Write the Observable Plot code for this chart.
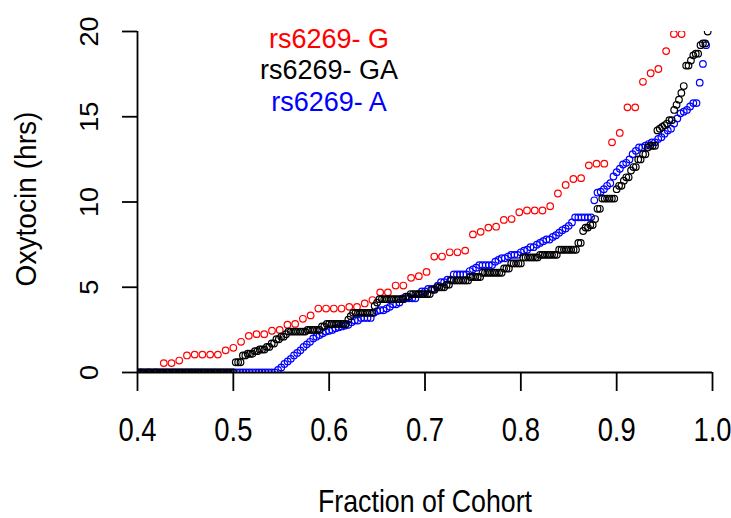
<!DOCTYPE html>
<html>
<head>
<meta charset="utf-8">
<script src="https://cdn.jsdelivr.net/npm/d3@7"></script>
<script src="https://cdn.jsdelivr.net/npm/@observablehq/plot@0.6"></script>
<style>
  html, body { margin: 0; padding: 0; background: #ffffff; }
  #chart { width: 731px; height: 518px; }
  #chart svg { font-family: "Liberation Sans", Arial, sans-serif; }
</style>
</head>
<body>
<div id="chart"></div>
<script>
// ---- labels / ticks ----
const seriesNames = ["rs6269- G", "rs6269- GA", "rs6269- A"];
const seriesColors = ["#ff0000", "#000000", "#0000ff"];
const xTitle = "Fraction of Cohort";
const yTitle = "Oxytocin (hrs)";
const xTicks = [0.4, 0.5, 0.6, 0.7, 0.8, 0.9, 1.0];
const yTicks = [0, 5, 10, 15, 20];
const xDomain = [0.4, 1.0];
const yDomain = [0, 20];

// ---- cohort sizes (per genotype) ----
const cohortSizes = [124, 400, 300];

// ---- rs6269 G : sorted oxytocin hours and how many patients share each value ----
const gHours  = [0, 0.55, 0.7, 1.0, 1.05, 1.3, 1.45, 1.8, 2.15, 2.25, 2.45, 2.5, 2.8, 2.85, 3.15, 3.35, 3.75, 3.85, 4.05, 4.25, 4.7, 5.1, 5.55, 5.65, 5.9, 6.8, 7.05, 7.15, 8.1, 8.25, 8.5, 8.55, 8.95, 9.0, 9.4, 9.5, 9.75, 10.5, 11.0, 11.35, 11.4, 12.15, 12.25, 13.5, 14.05, 15.55, 17.05, 17.55, 17.8, 18.85, 19.85];
const gCounts = [52, 2, 1, 1, 4, 1, 1, 1, 1, 2, 1, 1, 1, 1, 1, 1, 4, 2, 1, 1, 2, 2, 1, 1, 1, 2, 2, 1, 1, 1, 1, 1, 1, 1, 1, 3, 1, 1, 1, 1, 1, 1, 2, 1, 1, 2, 1, 1, 1, 1, 2];

// ---- rs6269 GA ----
const gaHours  = [0, 0.6, 1.0, 1.1, 1.25, 1.35, 1.5, 1.7, 1.95, 2.1, 2.25, 2.4, 2.5, 2.7, 2.85, 3.1, 3.3, 3.5, 3.9, 4.1, 4.3, 4.45, 4.6, 4.85, 5.0, 5.15, 5.4, 5.6, 5.85, 6.1, 6.4, 6.75, 6.9, 7.2, 7.6, 8.3, 8.5, 8.65, 9.0, 9.6, 10.2, 10.75, 10.95, 11.25, 11.45, 11.85, 12.05, 12.5, 12.8, 13.2, 13.3, 14.2, 14.3, 14.4, 14.5, 14.6, 14.8, 15.4, 15.7, 16.0, 16.4, 16.8, 18.0, 18.3, 18.6, 18.7, 19.2, 19.3, 20.0];
const gaCounts = [200, 3, 2, 3, 2, 3, 2, 2, 2, 2, 1, 8, 6, 2, 9, 1, 1, 9, 1, 1, 11, 2, 9, 2, 4, 2, 8, 5, 9, 3, 5, 7, 8, 8, 2, 1, 2, 2, 1, 2, 6, 1, 2, 1, 2, 1, 2, 2, 2, 1, 3, 1, 1, 1, 1, 1, 2, 1, 1, 1, 1, 1, 2, 1, 1, 2, 1, 2, 1];

// ---- rs6269 A ----
const aHours  = [0, 0.15, 0.3, 0.5, 0.65, 0.8, 1.0, 1.15, 1.3, 1.5, 1.65, 1.8, 2.0, 2.1, 2.2, 2.3, 2.4, 2.45, 2.5, 2.6, 2.65, 2.7, 2.75, 2.8, 2.95, 3.05, 3.2, 3.5, 3.6, 3.65, 3.75, 3.85, 4.0, 4.1, 4.35, 4.6, 4.75, 4.9, 5.1, 5.3, 5.45, 5.75, 5.95, 6.05, 6.15, 6.3, 6.5, 6.6, 6.7, 6.8, 6.9, 7.05, 7.15, 7.2, 7.35, 7.5, 7.6, 7.7, 7.8, 7.95, 8.05, 8.2, 8.35, 8.45, 8.6, 8.8, 9.1, 10.1, 10.55, 10.6, 10.75, 10.95, 11.1, 11.5, 11.75, 11.95, 12.2, 12.3, 12.5, 12.8, 13.0, 13.2, 13.3, 13.4, 13.5, 13.7, 13.8, 14.0, 14.2, 14.3, 14.6, 14.9, 15.2, 15.3, 15.4, 15.6, 15.8, 17.0, 18.1, 19.2];
const aCounts = [163, 1, 1, 1, 1, 1, 1, 1, 1, 1, 1, 1, 1, 1, 1, 1, 1, 1, 1, 1, 1, 1, 1, 1, 1, 2, 4, 1, 1, 2, 1, 1, 2, 1, 5, 1, 2, 3, 1, 2, 2, 5, 1, 1, 1, 5, 1, 1, 2, 1, 3, 1, 1, 1, 2, 1, 1, 1, 2, 1, 1, 1, 1, 1, 1, 1, 6, 1, 1, 1, 1, 1, 1, 1, 1, 1, 1, 1, 1, 1, 1, 2, 1, 1, 2, 1, 1, 1, 1, 1, 1, 1, 1, 1, 1, 1, 2, 1, 1, 1];

// Fraction of cohort = cumulative rank / cohort size
function toRows(hours, counts, total, name) {
  const rows = [];
  let rank = 0;
  hours.forEach((h, j) => {
    for (let k = 0; k < counts[j]; k++) {
      rank += 1;
      rows.push({fraction: rank / total, hours: h, genotype: name});
    }
  });
  return rows;
}

const gRows = toRows(gHours, gCounts, cohortSizes[0], seriesNames[0]);
const gaRows = toRows(gaHours, gaCounts, cohortSizes[1], seriesNames[1]);
const aRows = toRows(aHours, aCounts, cohortSizes[2], seriesNames[2]);

const dotStyle = {x: "fraction", y: "hours", r: 3.3, strokeWidth: 1.2, fill: "none", clip: true};
const legendDx = -96;
const legendDy = [16, 47, 79];

const chart = Plot.plot({
  width: 731,
  height: 518,
  marginLeft: 137,
  marginRight: 19,
  marginTop: 31,
  marginBottom: 146,
  style: {background: "#ffffff", color: "#000000", fontFamily: "Liberation Sans, Arial, sans-serif", overflow: "visible"},
  x: {domain: xDomain, axis: null},
  y: {domain: yDomain, axis: null},
  marks: [
    Plot.dot(gRows, {...dotStyle, stroke: seriesColors[0]}),
    Plot.dot(aRows, {...dotStyle, stroke: seriesColors[2]}),
    Plot.dot(gaRows, {...dotStyle, stroke: seriesColors[1]}),
    Plot.ruleY([yDomain[0]], {stroke: "#000", strokeWidth: 1.8}),
    Plot.ruleX([xDomain[0]], {stroke: "#000", strokeWidth: 1.8}),
    Plot.axisX({ticks: xTicks, tickFormat: d3.format(".1f"), tickSize: 19, tickPadding: 26, fontSize: 33, strokeWidth: 1.8, label: null}),
    Plot.axisY({ticks: yTicks, tickFormat: d3.format("d"), tickSize: 15, tickPadding: 25, tickRotate: -90, fontSize: 26, strokeWidth: 1.8, label: null}),
    Plot.text([xTitle], {text: d => d, frameAnchor: "bottom", dy: 139, lineAnchor: "bottom", fontSize: 32, fill: "#000"}),
    Plot.text([yTitle], {text: d => d, frameAnchor: "left", dx: -102, dy: -3, rotate: -90, lineAnchor: "bottom", textAnchor: "middle", fontSize: 29, fill: "#000"}),
    Plot.text([seriesNames[0]], {text: d => d, frameAnchor: "top", dx: legendDx, dy: legendDy[0], lineAnchor: "bottom", textAnchor: "middle", fontSize: 27, fill: seriesColors[0]}),
    Plot.text([seriesNames[1]], {text: d => d, frameAnchor: "top", dx: legendDx, dy: legendDy[1], lineAnchor: "bottom", textAnchor: "middle", fontSize: 27, fill: seriesColors[1]}),
    Plot.text([seriesNames[2]], {text: d => d, frameAnchor: "top", dx: legendDx, dy: legendDy[2], lineAnchor: "bottom", textAnchor: "middle", fontSize: 27, fill: seriesColors[2]})
  ]
});

// The reference's axis lettering is narrower along the writing direction than a plain font:
// squeeze each glyph run along its own baseline (local x), keeping its anchor in place.
function squeeze(nodes, along) {
  nodes.forEach(t => {
    let tr = t.getAttribute("transform") || "";
    const xa = t.getAttribute("x"), ya = t.getAttribute("y");
    if (xa && !/em$/.test(xa)) { tr += ` translate(${xa},0)`; t.removeAttribute("x"); }
    if (ya && !/em$/.test(ya)) { tr += ` translate(0,${ya})`; t.removeAttribute("y"); }
    t.setAttribute("transform", `${tr} scale(${along},1)`);
  });
}
const textGroups = Array.from(chart.querySelectorAll('g[aria-label="text"]'));
squeeze(chart.querySelectorAll('g[aria-label="x-axis tick label"] text'), 0.83);
squeeze(chart.querySelectorAll('g[aria-label="y-axis tick label"] text'), 1.04);
if (textGroups[0]) squeeze(textGroups[0].querySelectorAll("text"), 0.836);
if (textGroups[1]) squeeze(textGroups[1].querySelectorAll("text"), 0.97);

document.getElementById("chart").appendChild(chart);
</script>
</body>
</html>
